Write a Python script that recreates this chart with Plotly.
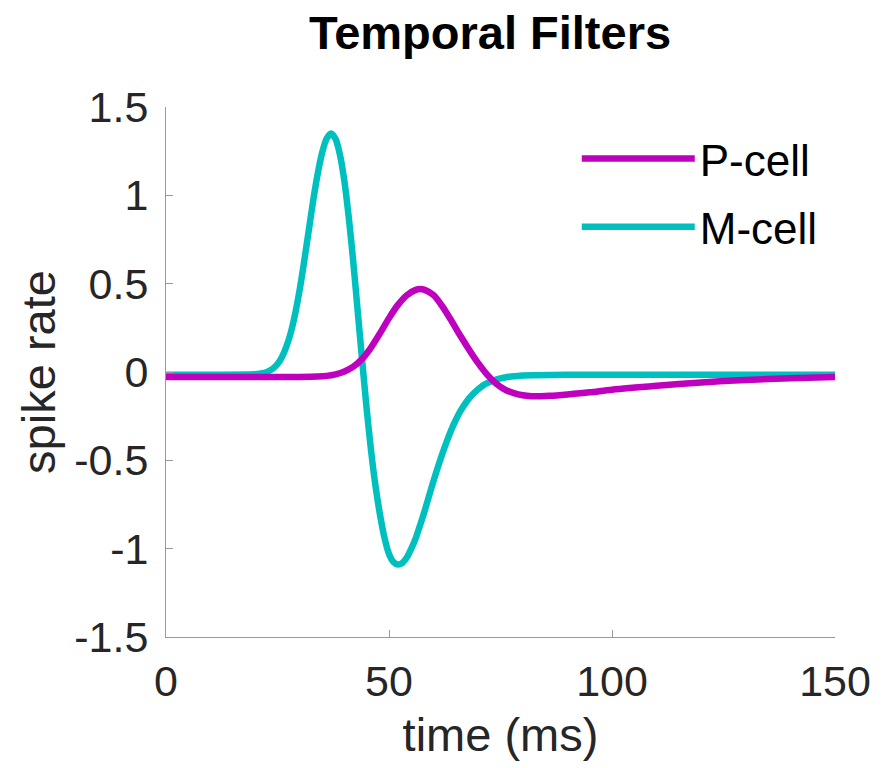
import plotly.graph_objects as go

# time (ms) and filter values
m_time = [0, 10, 20, 21, 22, 23, 24, 25, 26, 27, 28, 29, 30, 31, 32, 33, 34, 35, 36, 37, 38, 39, 40,
          41, 42, 43, 44, 45, 46, 47, 48, 49, 50, 51, 52, 53, 54, 55, 56, 57, 58, 59, 60, 61, 62, 63,
          64, 65, 66, 67, 68, 69, 70, 71, 72, 73, 74, 75, 76, 77, 78, 79, 80, 90, 150]
m_cell = [-0.015, -0.015, -0.013, -0.01, -0.005, 0.005, 0.02, 0.045, 0.085, 0.145, 0.225, 0.335, 0.47,
          0.63, 0.80, 0.97, 1.12, 1.24, 1.32, 1.35, 1.32, 1.23, 1.08, 0.87, 0.62, 0.34, 0.06, -0.21,
          -0.45, -0.65, -0.81, -0.94, -1.03, -1.075, -1.09, -1.08, -1.05, -1.00, -0.94, -0.865, -0.785,
          -0.70, -0.615, -0.535, -0.46, -0.39, -0.325, -0.27, -0.222, -0.182, -0.148, -0.12, -0.097,
          -0.078, -0.063, -0.052, -0.043, -0.036, -0.031, -0.027, -0.024, -0.022, -0.02, -0.016, -0.015]

p_time = [0, 30, 34, 36, 38, 40, 42, 44, 46, 48, 50, 52, 54, 56, 57, 58, 60, 62, 64, 66, 68, 70, 72,
          74, 76, 78, 80, 82, 84, 86, 90, 95, 100, 110, 120, 130, 140, 150]
p_cell = [-0.028, -0.028, -0.026, -0.022, -0.013, 0.003, 0.03, 0.075, 0.14, 0.22, 0.305, 0.38, 0.435,
          0.465, 0.47, 0.465, 0.435, 0.37, 0.29, 0.205, 0.125, 0.05, -0.015, -0.065, -0.10, -0.12,
          -0.132, -0.137, -0.137, -0.135, -0.127, -0.115, -0.10, -0.078, -0.059, -0.045, -0.035, -0.028]

x_ticks = [0, 50, 100, 150]
y_ticks = [-1.5, -1, -0.5, 0, 0.5, 1, 1.5]
y_tick_text = ["-1.5", "-1", "-0.5", "0", "0.5", "1", "1.5"]

MAG = "#BF00BF"
CYA = "#00BFBF"
FONT = "Liberation Sans, Arial, Helvetica, sans-serif"

fig = go.Figure()
fig.add_trace(go.Scatter(x=m_time, y=m_cell, mode="lines", name="M-cell", legendrank=2, legendgroup="m",
                         line=dict(color=CYA, width=6.5, shape="spline", smoothing=0.8)))
fig.add_trace(go.Scatter(x=p_time, y=p_cell, mode="lines", name="P-cell", legendrank=1, legendgroup="p",
                         line=dict(color=MAG, width=6.5, shape="spline", smoothing=0.8)))

axis_common = dict(showgrid=False, zeroline=False, showline=True, linecolor="#999999", linewidth=1,
                   ticks="inside", ticklen=7, tickcolor="#999999", tickwidth=1,
                   tickfont=dict(family=FONT, size=43, color="#262626"))

fig.update_xaxes(range=[0, 150], tickvals=x_ticks, ticktext=[str(v) for v in x_ticks],
                 title=dict(text="time (ms)", font=dict(family=FONT, size=47, color="#262626"), standoff=14),
                 ticklabelstandoff=6, **axis_common)
fig.update_yaxes(range=[-1.5, 1.5], tickvals=y_ticks, ticktext=y_tick_text,
                 title=dict(text="spike rate", font=dict(family=FONT, size=47, color="#262626"), standoff=3),
                 ticklabelstandoff=8, **axis_common)

fig.update_layout(
    width=892, height=768,
    margin=dict(l=166, r=57, t=107, b=131),
    paper_bgcolor="white", plot_bgcolor="white",
    title=dict(text="<b>Temporal Filters</b>", x=490 / 892, xref="container", xanchor="center",
               y=1 - 33 / 768, yref="container", yanchor="middle",
               font=dict(family=FONT, size=47, color="black")),
    legend=dict(x=0.614, y=0.969, xanchor="left", yanchor="top", bgcolor="rgba(0,0,0,0)",
                font=dict(family=FONT, size=44, color="black"), itemwidth=113,
                traceorder="grouped", tracegroupgap=8),
)

fig.write_html("out.html")
